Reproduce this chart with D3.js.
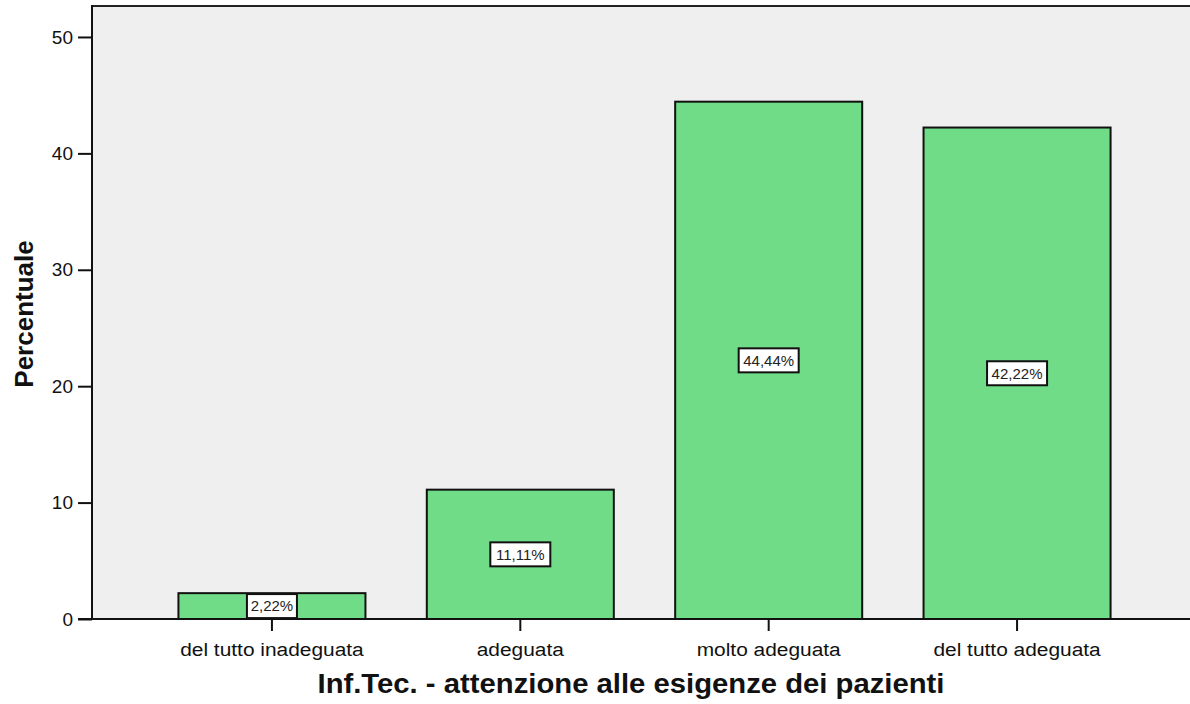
<!DOCTYPE html>
<html>
<head>
<meta charset="utf-8">
<script src="https://cdn.jsdelivr.net/npm/d3@7"></script>
<style>
  body { margin: 0; background: #fff; }
  text { font-family: "Liberation Sans", Arial, sans-serif; }
</style>
</head>
<body>
<script>
// chart data
const categories = ["del tutto inadeguata", "adeguata", "molto adeguata", "del tutto adeguata"];
const percentages = [2.22, 11.11, 44.44, 42.22];
const yTicks = [0, 10, 20, 30, 40, 50];
const xTitle = "Inf.Tec. - attenzione alle esigenze dei pazienti";
const yTitle = "Percentuale";

const W = 1190, H = 704;
const plot = { left: 92, right: 1197, top: 6, bottom: 619 };
const FONT = "'Liberation Sans', Arial, sans-serif";

const svg = d3.select("body")
  .append("svg")
  .attr("width", W)
  .attr("height", H);

// scales
const xScale = d3.scaleBand()
  .domain(categories)
  .range([plot.left, plot.right])
  .paddingInner(0.247)
  .paddingOuter(0.348);

const yScale = d3.scaleLinear()
  .domain([0, 52.66])
  .range([plot.bottom, plot.top]);

// plot background
svg.append("rect")
  .attr("x", plot.left)
  .attr("y", plot.top)
  .attr("width", plot.right - plot.left)
  .attr("height", plot.bottom - plot.top)
  .attr("fill", "#efefef");

// top border
svg.append("line")
  .attr("x1", plot.left).attr("x2", plot.right)
  .attr("y1", plot.top).attr("y2", plot.top)
  .attr("stroke", "#222").attr("stroke-width", 2);

// bars
svg.append("g")
  .selectAll("rect")
  .data(percentages)
  .enter()
  .append("rect")
  .attr("x", (d, i) => xScale(categories[i]))
  .attr("y", (d) => yScale(d))
  .attr("width", xScale.bandwidth())
  .attr("height", (d) => yScale(0) - yScale(d))
  .attr("fill", "#70dc88")
  .attr("stroke", "#111")
  .attr("stroke-width", 2);

// value labels in boxes
const labels = svg.append("g")
  .selectAll("g")
  .data(percentages)
  .enter()
  .append("g")
  .attr("transform", (d, i) =>
    `translate(${xScale(categories[i]) + xScale.bandwidth() / 2}, ${yScale(d / 2)})`);

labels.append("rect")
  .attr("x", (d) => (d >= 10 ? -30 : -25))
  .attr("y", -12)
  .attr("width", (d) => (d >= 10 ? 60 : 50))
  .attr("height", 24)
  .attr("fill", "#fff")
  .attr("stroke", "#111")
  .attr("stroke-width", 2);

labels.append("text")
  .attr("text-anchor", "middle")
  .attr("dy", "0.36em")
  .attr("font-size", 15)
  .attr("fill", "#222")
  .text((d) => d.toFixed(2).replace(".", ",") + "%");

// y axis
const yAxis = svg.append("g")
  .attr("transform", `translate(${plot.left},0)`)
  .call(d3.axisLeft(yScale).tickValues(yTicks).tickSize(14).tickPadding(5));
yAxis.select(".domain").remove();
yAxis.selectAll(".tick line").attr("stroke", "#111").attr("stroke-width", 2);
yAxis.selectAll(".tick text")
  .attr("font-size", 19)
  .attr("fill", "#111")
  .style("font-family", FONT);
svg.append("line")
  .attr("x1", plot.left).attr("x2", plot.left)
  .attr("y1", plot.top - 1).attr("y2", plot.bottom)
  .attr("stroke", "#111").attr("stroke-width", 2);

// x axis
const xAxis = svg.append("g")
  .attr("transform", `translate(0,${plot.bottom})`)
  .call(d3.axisBottom(xScale).tickSize(12).tickPadding(0));
xAxis.select(".domain").remove();
xAxis.selectAll(".tick line").attr("stroke", "#111").attr("stroke-width", 2);
xAxis.selectAll(".tick text")
  .attr("y", 37)
  .attr("dy", null)
  .attr("font-size", 19)
  .attr("fill", "#111")
  .attr("transform", "scale(1.1,1)")
  .style("font-family", FONT);
svg.append("line")
  .attr("x1", plot.left - 14).attr("x2", plot.right)
  .attr("y1", plot.bottom).attr("y2", plot.bottom)
  .attr("stroke", "#111").attr("stroke-width", 2);

// axis titles
svg.append("text")
  .attr("x", 631)
  .attr("y", 693)
  .attr("text-anchor", "middle")
  .attr("font-size", 27)
  .attr("font-weight", "bold")
  .attr("fill", "#111")
  .attr("textLength", 627)
  .attr("lengthAdjust", "spacingAndGlyphs")
  .text(xTitle);

svg.append("text")
  .attr("transform", "translate(33,314) rotate(-90)")
  .attr("text-anchor", "middle")
  .attr("font-size", 26)
  .attr("font-weight", "bold")
  .attr("fill", "#111")
  .text(yTitle);
</script>
</body>
</html>
